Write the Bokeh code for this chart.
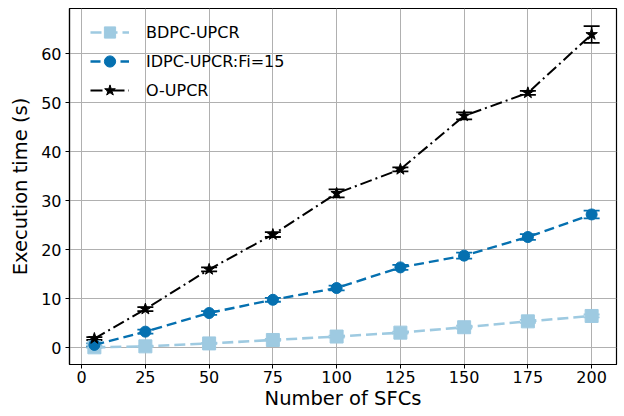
from bokeh.plotting import figure
from bokeh.models import (ColumnDataSource, Whisker, TeeHead, FixedTicker,
                          Range1d, Legend, LegendItem)
from bokeh.embed import file_html
from bokeh.resources import INLINE

# Number of SFCs
sfcs = [5, 25, 50, 75, 100, 125, 150, 175, 200]

# Mean execution time (s) and error per method
bdpc_mean = [0.1, 0.3, 0.9, 1.6, 2.3, 3.1, 4.2, 5.4, 6.5]
bdpc_err = [0.1, 0.1, 0.1, 0.2, 0.2, 0.2, 0.3, 0.3, 0.3]

idpc_mean = [0.6, 3.3, 7.1, 9.8, 12.2, 16.4, 18.8, 22.6, 27.2]
idpc_err = [0.3, 0.4, 0.4, 0.4, 0.5, 0.5, 0.6, 0.6, 0.8]

oupcr_mean = [1.9, 7.9, 16.0, 23.1, 31.5, 36.4, 47.3, 52.0, 63.9]
oupcr_err = [0.3, 0.4, 0.4, 0.5, 0.8, 0.4, 0.7, 0.4, 1.7]

x_ticks = [0, 25, 50, 75, 100, 125, 150, 175, 200]
y_ticks = [0, 10, 20, 30, 40, 50, 60]

FONT = "DejaVu Sans"

p = figure(width=624, height=416, output_backend="svg", toolbar_location=None,
           x_range=Range1d(-4.75, 209.75), y_range=Range1d(-3.4, 69.2),
           min_border_left=69, min_border_right=8, min_border_top=8,
           min_border_bottom=52)

p.background_fill_color = "white"
p.border_fill_color = "white"
p.outline_line_color = "black"
p.outline_line_width = 1.2

for ax in (p.xaxis[0], p.yaxis[0]):
    ax.major_label_text_font = FONT
    ax.major_label_text_font_size = "16px"
    ax.major_label_text_color = "black"
    ax.axis_label_text_font = FONT
    ax.axis_label_text_font_size = "19.5px"
    ax.axis_label_text_font_style = "normal"
    ax.axis_label_text_color = "black"
    ax.axis_line_color = "black"
    ax.axis_line_width = 1.2
    ax.major_tick_line_color = "black"
    ax.major_tick_out = 4
    ax.major_tick_in = 0
    ax.minor_tick_line_color = None

p.xaxis[0].ticker = FixedTicker(ticks=x_ticks)
p.yaxis[0].ticker = FixedTicker(ticks=y_ticks)
p.xaxis[0].axis_label = "Number of SFCs"
p.yaxis[0].axis_label = "Execution time (s)"
p.xaxis[0].major_label_standoff = 2
p.yaxis[0].major_label_standoff = 4
p.xaxis[0].axis_label_standoff = 1
p.yaxis[0].axis_label_standoff = 6

p.xgrid.grid_line_color = "#b0b0b0"
p.ygrid.grid_line_color = "#b0b0b0"
p.xgrid.grid_line_width = 1
p.ygrid.grid_line_width = 1
p.xgrid.ticker = FixedTicker(ticks=x_ticks)
p.ygrid.ticker = FixedTicker(ticks=y_ticks)

series = [
    ("BDPC-UPCR", bdpc_mean, bdpc_err, "#9ecae1", "square", 13, "11 5", 2.6),
    ("IDPC-UPCR:Fi=15", idpc_mean, idpc_err, "#0570b0", "circle", 11, "10 5", 2.4),
    ("O-UPCR", oupcr_mean, oupcr_err, "black", "star", 12, "12 4 2 4", 2.0),
]

items = []
for name, mean, err, color, marker, size, dash, lw in series:
    src = ColumnDataSource(dict(
        x=sfcs, y=mean,
        lower=[m - e for m, e in zip(mean, err)],
        upper=[m + e for m, e in zip(mean, err)],
    ))
    line = p.line("x", "y", source=src, line_color=color, line_width=lw,
                  line_dash=dash)
    whisker = Whisker(base="x", lower="lower", upper="upper", source=src,
                      line_color=color, line_width=1.6,
                      upper_head=TeeHead(size=16, line_color=color, line_width=1.8),
                      lower_head=TeeHead(size=16, line_color=color, line_width=1.8))
    p.add_layout(whisker)
    pts = p.scatter("x", "y", source=src, marker=marker, size=size,
                    fill_color=color, line_color=color)
    items.append(LegendItem(label=name, renderers=[line, pts]))

# legend anchored by its bottom-left corner, in pixels from the frame's bottom-left
legend = Legend(items=items, location=(21, 260), margin=0, padding=0,
                spacing=1, glyph_width=39, glyph_height=28, label_height=28,
                label_standoff=17, label_text_font=FONT,
                label_text_font_size="16px", label_text_color="black",
                background_fill_alpha=0, border_line_alpha=0)
p.add_layout(legend)

open("out.html", "w").write(file_html(p, INLINE))
